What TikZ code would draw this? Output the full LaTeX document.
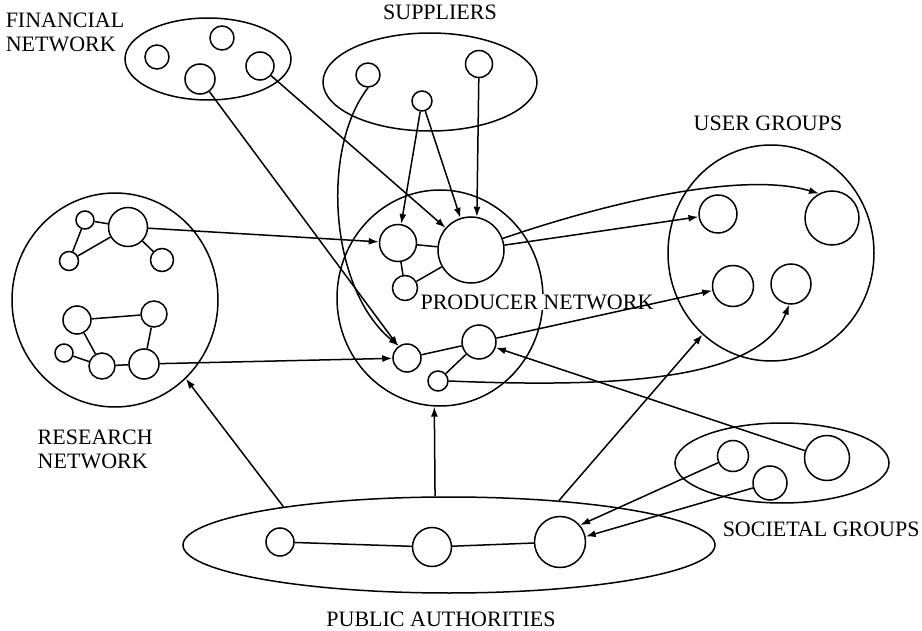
\documentclass[tikz,border=0pt]{standalone}
\usepackage{fontspec}
\setmainfont{Liberation Serif}
\usetikzlibrary{arrows.meta,shapes.geometric}
\begin{document}
\begin{tikzpicture}[x=1pt,y=-1pt,line width=1.5pt,
  grp/.style={draw,ellipse,inner sep=0pt},
  nd/.style={draw,circle,inner sep=0pt,minimum size=#1},
  lbl/.style={font=\fontsize{22}{24}\selectfont,inner sep=0pt,align=left},
  arr/.style={-{Latex[length=10pt,width=7pt]}}]
\useasboundingbox (0,0) rectangle (922,631);
% groups
\node[grp,minimum width=166pt,minimum height=82pt] (fin) at (208,59) {};
\node[grp,minimum width=214pt,minimum height=98pt] (sup) at (430,82) {};
\node[grp,minimum width=206pt,minimum height=214pt] (res) at (115,300) {};
\node[grp,minimum width=206pt,minimum height=216pt] (prod) at (440,298) {};
\node[grp,minimum width=206pt,minimum height=216pt] (usr) at (771,253) {};
\node[grp,minimum width=214pt,minimum height=80pt] (soc) at (782,463) {};
\node[grp,minimum width=532pt,minimum height=96pt] (pa) at (449,545) {};
% financial
\node[nd=24pt] (F1) at (157,57) {};
\node[nd=24pt] (F2) at (222,38) {};
\node[nd=30pt] (F3) at (200,79) {};
\node[nd=28pt] (F4) at (260,66) {};
% suppliers
\node[nd=24pt] (S1) at (368,75) {};
\node[nd=27pt] (S2) at (479,64) {};
\node[nd=20pt] (S3) at (422,101) {};
% research
\node[nd=18pt] (R1) at (85,220) {};
\node[nd=39pt] (R2) at (128,227) {};
\node[nd=19pt] (R3) at (69,261) {};
\node[nd=23pt] (R4) at (162,260) {};
\node[nd=28pt] (R5) at (77,320) {};
\node[nd=26pt] (R6) at (154,314) {};
\node[nd=18pt] (R7) at (64,353) {};
\node[nd=26pt] (R8) at (102,366) {};
\node[nd=30pt] (R9) at (144,364) {};
\draw (R1) -- (R2) (R1) -- (R3) (R3) -- (R2) (R2) -- (R4);
\draw (R5) -- (R6) (R5) -- (R8) (R7) -- (R8) (R8) -- (R9) (R9) -- (R6);
% producer
\node[nd=37pt] (P1) at (398,243) {};
\node[nd=66pt] (P2) at (471,250) {};
\node[nd=25pt] (P3) at (405,288) {};
\node[nd=34pt] (P4) at (479,342) {};
\node[nd=28pt] (P5) at (407,358) {};
\node[nd=20pt] (P6) at (438,381) {};
\draw (P1) -- (P2) (P1) -- (P3) (P3) -- (P2) (P5) -- (P4) (P6) -- (P4);
% users
\node[nd=38pt] (U1) at (718,214) {};
\node[nd=54pt] (U2) at (832,218) {};
\node[nd=41pt] (U3) at (733,286) {};
\node[nd=40pt] (U4) at (791,284) {};
% societal
\node[nd=31pt] (G1) at (733,456) {};
\node[nd=34pt] (G2) at (770,483) {};
\node[nd=45pt] (G3) at (827,458) {};
% public authorities
\node[nd=28pt] (A1) at (280,542) {};
\node[nd=39pt] (A2) at (432,547) {};
\node[nd=51pt] (A3) at (560,542) {};
\draw (A1) -- (A2) (A2) -- (A3);
% labels
\node[lbl,anchor=west] (lfin) at (5,32) {FINANCIAL\\NETWORK};
\node[lbl] (lsup) at (440,12) {SUPPLIERS};
\node[lbl] (lusr) at (768,123) {USER GROUPS};
\node[lbl,anchor=west] (lres) at (37,449) {RESEARCH\\NETWORK};
\node[lbl,fill=white,inner sep=1pt] (lprod) at (537,302) {PRODUCER NETWORK};
\node[lbl,anchor=west] (lsoc) at (722,529) {SOCIETAL GROUPS};
\node[lbl] (lpa) at (441,619) {PUBLIC AUTHORITIES};
% connectors
\draw[arr] (F4) -- (P2);
\draw[arr] (F3) -- (P5);
\draw[arr] (S1.south) .. controls (320,150) and (330,290) .. (P5.124);
\draw[arr] (S3) -- (P1);
\draw[arr] (S3) -- (P2);
\draw[arr] (S2) -- (P2.80);
\draw[arr] (R2) -- (P1);
\draw[arr] (R9) -- (P5);
\draw[arr] (P2.20) .. controls (600,205) and (740,170) .. (U2.118);
\draw[arr] (P2) -- (U1);
\draw[arr] (P4) -- (U3);
\draw[arr] (P6.east) .. controls (620,388) and (760,380) .. (U4.265);
\draw[arr] (G3) -- (P4);
\draw[arr] (G1) -- (A3.40);
\draw[arr] (G2) -- (A3.12);
\draw[arr] (pa.167.7) -- (res.312.8);
\draw[arr] (pa.106) -- (prod.267);
\draw[arr] (pa.22.5) -- (usr.230);
\end{tikzpicture}
\end{document}
